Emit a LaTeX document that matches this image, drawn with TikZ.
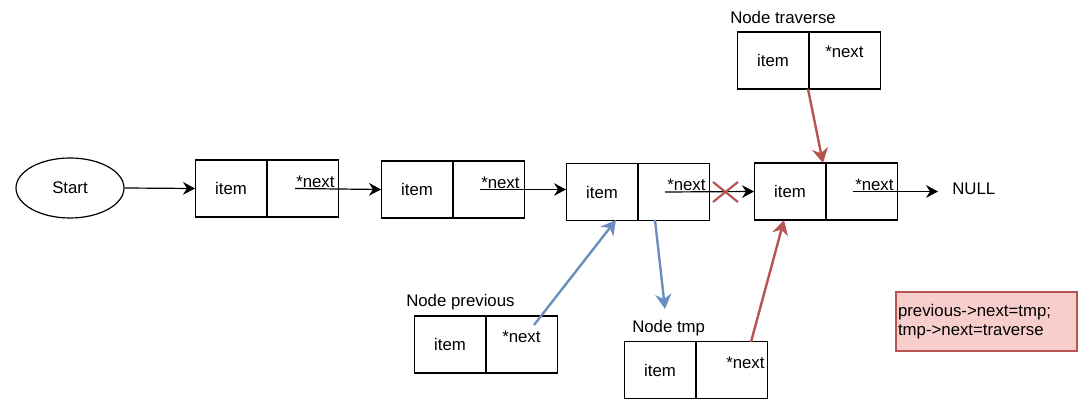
\documentclass[tikz,border=0pt]{standalone}
\usepackage{fontspec}
\setmainfont{Liberation Sans}
\usetikzlibrary{arrows.meta,shapes.geometric}
\definecolor{bluec}{HTML}{6C8EBF}
\definecolor{redc}{HTML}{B85450}
\definecolor{redfill}{HTML}{F8CECC}
\tikzset{
  cell/.style={draw, line width=0.9pt, minimum width=53.25pt, minimum height=42.75pt, inner sep=0pt, anchor=west},
  nexttxt/.style={anchor=west, inner sep=0pt},
  lbl/.style={anchor=west, inner sep=0pt},
  blk/.style={draw, line width=0.9pt, -{Stealth[length=9pt,width=9.5pt,inset=3pt]}},
  bluearr/.style={draw=bluec, line width=1.8pt, -{Stealth[length=11pt,width=12pt,inset=3.5pt]}},
  redarr/.style={draw=redc, line width=1.8pt, -{Stealth[length=11pt,width=12pt,inset=3.5pt]}},
}
\begin{document}
\begin{tikzpicture}[x=0.75pt,y=-0.75pt,font=\fontsize{12.6}{14.25}\selectfont]
\useasboundingbox (0,0) rectangle (1090,409);

% Start
\node[draw, ellipse, line width=0.9pt, minimum width=81pt, minimum height=45pt, inner sep=0pt] (start) at (70,188) {Start};

% Main list boxes
\node[cell] (b1i) at (195,188.5) {item};
\node[cell] (b1n) at (b1i.east) {};
\node[cell] (b2i) at (381,189.5) {item};
\node[cell] (b2n) at (b2i.east) {};
\node[cell] (b3i) at (566,192) {item};
\node[cell] (b3n) at (b3i.east) {};
\node[cell] (b4i) at (754,191.5) {item};
\node[cell] (b4n) at (b4i.east) {};

% Traverse, previous, tmp boxes
\node[cell] (tri) at (737,60.5) {item};
\node[cell] (trn) at (tri.east) {};
\node[cell] (pri) at (414,344.5) {item};
\node[cell] (prn) at (pri.east) {};
\node[cell] (tmi) at (624,370) {item};
\node[cell] (tmn) at (tmi.east) {};

% *next texts
\node[nexttxt] (n1) at (296,182) {*next};
\node[nexttxt] (n2) at (481,183) {*next};
\node[nexttxt] (n3) at (667,185) {*next};
\node[nexttxt] (n4) at (855,184.5) {*next};
\node[nexttxt] (ntr) at (825,52) {*next};
\node[nexttxt] (npr) at (502,337) {*next};
\node[nexttxt] (ntm) at (726,363) {*next};

% Labels
\node[lbl] (ltr) at (730,18) {Node traverse};
\node[lbl] (lpr) at (406,302) {Node previous};
\node[lbl] (ltm) at (632,328) {Node tmp};
\node[lbl] (null) at (952,188.5) {NULL};

% Code box
\node[draw=redc, fill=redfill, line width=0.9pt, minimum width=135.75pt, minimum height=44.25pt,
      text width=132.75pt, inner xsep=1.5pt, align=left] (code) at (986.5,321.5)
      {previous->next=tmp;\\tmp->next=traverse};

% Coordinates for connectors
\coordinate (c1) at (295,188.5);
\coordinate (c2) at (480,189.5);
\coordinate (c3) at (665,192);
\coordinate (c4) at (853,191.5);
\coordinate (nullend) at (938,191.5);
\coordinate (pfrom) at (534,325);
\coordinate (b3bot) at (616,220);
\coordinate (b3bot2) at (655,220);
\coordinate (tmpend) at (665,309);
\coordinate (trbot) at (808,89);
\coordinate (b4top) at (823,163);
\coordinate (tmtop) at (751,342);
\coordinate (b4bot) at (784,220);

% Black connectors
\path[blk] (start.east) -- (b1i.west);
\path[blk] (c1) -- (b2i.west);
\path[blk] (c2) -- (c2 -| b3i.west);
\path[blk] (c3) -- (b4i.west);
\path[blk] (c4) -- (nullend);

% Red X
\draw[redc, line width=1.6pt] (713,182) -- (738,202) (713,202) -- (738,182);

% Colored connectors
\path[bluearr] (pfrom) -- (b3bot);
\path[bluearr] (b3bot2) -- (tmpend);
\path[redarr] (trbot) -- (b4top);
\path[redarr] (tmtop) -- (b4bot);
\end{tikzpicture}
\end{document}
